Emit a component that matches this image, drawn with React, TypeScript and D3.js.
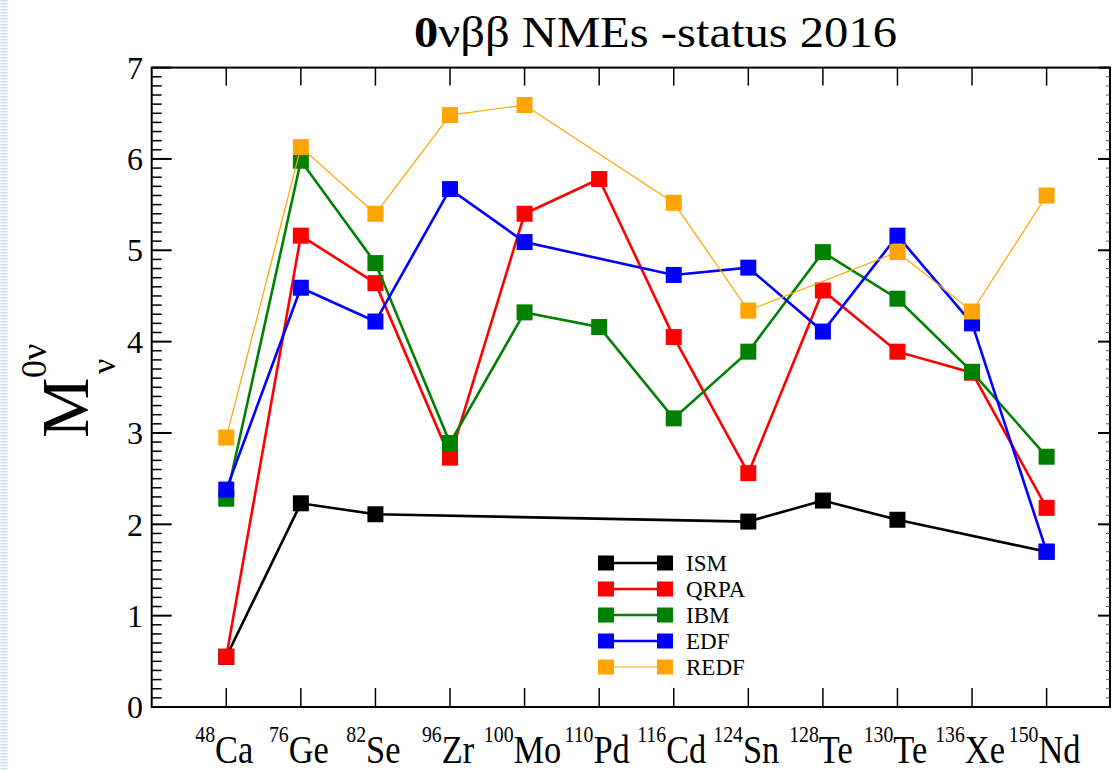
import React from "react";
import * as d3 from "d3";

const massNumbers = ["48", "76", "82", "96", "100", "110", "116", "124", "128", "130", "136", "150"];
const elements = ["Ca", "Ge", "Se", "Zr", "Mo", "Pd", "Cd", "Sn", "Te", "Te", "Xe", "Nd"];

const ismValues = [0.55, 2.23, 2.11, null, null, null, null, 2.03, 2.26, 2.05, null, 1.7];
const qrpaValues = [0.55, 5.16, 4.64, 2.73, 5.4, 5.78, 4.05, 2.56, 4.56, 3.89, 3.66, 2.18];
const ibmValues = [2.28, 5.98, 4.86, 2.89, 4.32, 4.16, 3.16, 3.89, 4.98, 4.47, 3.67, 2.74];
const edfValues = [2.38, 4.59, 4.22, 5.67, 5.09, null, 4.73, 4.81, 4.11, 5.16, 4.2, 1.7];
const redfValues = [2.95, 6.13, 5.4, 6.48, 6.59, null, 5.52, 4.34, null, 4.98, 4.33, 5.6];

const seriesNames = ["ISM", "QRPA", "IBM", "EDF", "REDF"];
const seriesColors = ["#000000", "#ff0000", "#008000", "#0000ff", "#ffa500"];
const seriesWidths = [2.6, 2.6, 2.6, 2.6, 1.2];
const seriesData = [ismValues, qrpaValues, ibmValues, edfValues, redfValues];

const yTicks = [0, 1, 2, 3, 4, 5, 6, 7];

const W = 1112;
const H = 771;
const left = 151.7;
const right = 1110;
const top = 67.6;
const bottom = 707;
const serif = "'Liberation Serif', 'Times New Roman', Times, serif";

export default function App() {
  const x = d3.scaleLinear().domain([0, 12.85]).range([left, right]);
  const y = d3.scaleLinear().domain([0, 7]).range([bottom, top]);
  const minor = d3.range(0, 70).map((i) => i / 10).filter((v) => Math.abs(v - Math.round(v)) > 1e-6);
  const line = d3
    .line<{ i: number; v: number }>()
    .x((d) => x(d.i + 1))
    .y((d) => y(d.v));
  const ms = 16;
  const legendY0 = 563;
  const legendDy = 26;

  return (
    <div style={{ position: "absolute", left: 0, top: 0 }}>
      <svg width={W} height={H} style={{ display: "block", background: "#fff" }}>
        <line x1={4} x2={4} y1={0} y2={H} stroke="#c6e2ee" strokeWidth={7} strokeDasharray="1.5 1.5" />
        {/* title */}
        <text x={414} y={47} fontFamily={serif} fontSize={44} fill="#000" textLength={483} lengthAdjust="spacingAndGlyphs">
          <tspan fontWeight="bold">0</tspan>
          <tspan>νββ NMEs -status 2016</tspan>
        </text>
        {/* y label */}
        <g transform={`translate(88, 438) rotate(-90)`} fontFamily={serif} fill="#000">
          <text x={0} y={0} fontSize={68}>M</text>
          <text x={60} y={-42} fontSize={36}>0ν</text>
          <text x={64} y={27} fontSize={34}>ν</text>
        </g>
        {/* frame */}
        <rect x={left} y={top} width={right - left} height={bottom - top} fill="none" stroke="#000" strokeWidth={2} />
        {/* y ticks */}
        {yTicks.map((t) => (
          <g key={"yt" + t}>
            <line x1={left} x2={left + 20} y1={y(t)} y2={y(t)} stroke="#000" strokeWidth={2} />
            <line x1={right} x2={right - 12} y1={y(t)} y2={y(t)} stroke="#000" strokeWidth={2} />
            <text x={143} y={y(t)} dy="0.35em" textAnchor="end" fontFamily={serif} fontSize={32} fill="#000">
              {t}
            </text>
          </g>
        ))}
        {minor.map((t) => (
          <g key={"ym" + t}>
            <line x1={left} x2={left + 10} y1={y(t)} y2={y(t)} stroke="#000" strokeWidth={1.5} />
            <line x1={right} x2={right - 4} y1={y(t)} y2={y(t)} stroke="#555" strokeWidth={1} />
          </g>
        ))}
        {/* x ticks */}
        {massNumbers.map((m, i) => (
          <g key={"xt" + i}>
            <line x1={x(i + 1)} x2={x(i + 1)} y1={bottom} y2={bottom - 19} stroke="#000" strokeWidth={1.5} />
            <line x1={x(i + 1)} x2={x(i + 1)} y1={top} y2={top + 18} stroke="#000" strokeWidth={1.5} />
            <g transform={`translate(${x(i + 1) - 2}, 763) scale(0.86, 1)`}>
              <text x={0} y={0} textAnchor="middle" fontFamily={serif} fill="#000">
                <tspan fontSize={23} dy={-21}>{m}</tspan>
                <tspan fontSize={40} dy={21}>{elements[i]}</tspan>
              </text>
            </g>
          </g>
        ))}
        {/* series */}
        {seriesData.map((vals, s) => {
          const pts = vals
            .map((v, i) => ({ i, v: v as number }))
            .filter((d) => d.v !== null && d.v !== undefined);
          return (
            <g key={"s" + s}>
              <path d={line(pts) || ""} fill="none" stroke={seriesColors[s]} strokeWidth={seriesWidths[s]} />
              {pts.map((d) => (
                <rect
                  key={d.i}
                  x={x(d.i + 1) - ms / 2}
                  y={y(d.v) - ms / 2}
                  width={ms}
                  height={ms}
                  fill={seriesColors[s]}
                />
              ))}
            </g>
          );
        })}
        {/* legend */}
        {seriesNames.map((n, s) => {
          const ly = legendY0 + s * legendDy;
          return (
            <g key={"l" + s}>
              <line x1={606} x2={665} y1={ly} y2={ly} stroke={seriesColors[s]} strokeWidth={seriesWidths[s]} />
              <rect x={606 - 8} y={ly - 7.5} width={16} height={15} fill={seriesColors[s]} />
              <rect x={665 - 8} y={ly - 7.5} width={16} height={15} fill={seriesColors[s]} />
              <text x={686} y={ly} dy="0.35em" fontFamily={serif} fontSize={23} fill="#000">
                {n}
              </text>
            </g>
          );
        })}
      </svg>
    </div>
  );
}
